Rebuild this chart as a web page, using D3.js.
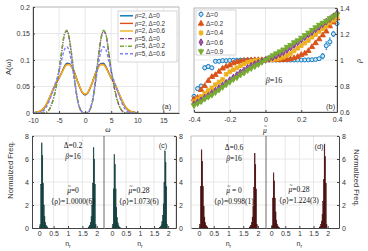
<!DOCTYPE html>
<html>
<head>
<meta charset="utf-8">
<script src="https://cdn.jsdelivr.net/npm/d3@7"></script>
<style>
body { margin: 0; background: #fff; }
text { font-family: "Liberation Sans", Arial, sans-serif; fill: #333; }
text.serif, tspan.serif { font-family: "Liberation Serif", "Times New Roman", serif; fill: #111; }
</style>
</head>
<body>
<div id="fig"></div>
<script>
// ---------- panel (a) data: A(w) ----------
var omega = [-10,-9.5,-9,-8.5,-8,-7.5,-7,-6.5,-6,-5.5,-5,-4.5,-4,-3.5,-3,-2.5,-2,-1.5,-1,-0.5,0,
             0.5,1,1.5,2,2.5,3,3.5,4,4.5,5,5.5,6,6.5,7,7.5,8,8.5,9,9.5,10];
var aB2D0  = [0,0.001,0.002,0.004,0.008,0.015,0.025,0.036,0.048,0.058,0.066,0.076,0.087,0.094,0.093,0.086,0.075,0.061,0.048,0.038,0.034,
              0.038,0.048,0.061,0.075,0.086,0.093,0.094,0.087,0.076,0.066,0.058,0.048,0.036,0.025,0.015,0.008,0.004,0.002,0.001,0];
var aB2D02 = [0,0.001,0.002,0.004,0.008,0.015,0.025,0.036,0.048,0.058,0.066,0.076,0.086,0.092,0.092,0.086,0.075,0.061,0.048,0.038,0.035,
              0.038,0.048,0.061,0.075,0.086,0.092,0.092,0.086,0.076,0.066,0.058,0.048,0.036,0.025,0.015,0.008,0.004,0.002,0.001,0];
var aB2D06 = [0,0.001,0.002,0.005,0.009,0.016,0.026,0.037,0.049,0.059,0.066,0.075,0.085,0.091,0.091,0.085,0.074,0.061,0.049,0.039,0.036,
              0.039,0.049,0.061,0.074,0.085,0.091,0.091,0.085,0.075,0.066,0.059,0.049,0.037,0.026,0.016,0.009,0.005,0.002,0.001,0];
var aB5D0  = [0,0,0,0,0,0.001,0.005,0.014,0.030,0.052,0.080,0.115,0.147,0.155,0.138,0.103,0.062,0.027,0.008,0.001,0,
              0.001,0.008,0.027,0.062,0.103,0.138,0.155,0.147,0.115,0.080,0.052,0.030,0.014,0.005,0.001,0,0,0,0,0];
var aB5D02 = [0,0,0,0,0,0.001,0.005,0.014,0.031,0.053,0.081,0.116,0.148,0.156,0.138,0.102,0.061,0.026,0.008,0.001,0,
              0.001,0.008,0.026,0.061,0.102,0.138,0.156,0.148,0.116,0.081,0.053,0.031,0.014,0.005,0.001,0,0,0,0,0];
var aB5D06 = [0,0,0,0.001,0.004,0.010,0.020,0.033,0.047,0.062,0.079,0.100,0.119,0.125,0.115,0.090,0.058,0.028,0.009,0.002,0,
              0.002,0.009,0.028,0.058,0.090,0.115,0.125,0.119,0.100,0.079,0.062,0.047,0.033,0.020,0.010,0.004,0.001,0,0,0];
var aLabels = ["2, \u0394=0", "2, \u0394=0.2", "2, \u0394=0.6", "5, \u0394=0", "5, \u0394=0.2", "5, \u0394=0.6"];
var aXTicks = [-10, -5, 0, 5, 10, 15];
var aYTicks = [0, 0.05, 0.1, 0.15, 0.2];

// ---------- panel (b) data: rho(mu) ----------
var mu = [-0.40,-0.38,-0.36,-0.34,-0.32,-0.30,-0.28,-0.26,-0.24,-0.22,-0.20,-0.18,-0.16,-0.14,-0.12,-0.10,-0.08,-0.06,-0.04,-0.02,0,
          0.02,0.04,0.06,0.08,0.10,0.12,0.14,0.16,0.18,0.20,0.22,0.24,0.26,0.28,0.30,0.32,0.34,0.36,0.38,0.40];
var rhoD0  = [0.72,0.78,0.80,0.94,0.95,0.94,0.99,0.99,0.995,0.995,0.997,0.998,0.998,0.999,0.999,1.0,1.0,1.0,1.0,1.0,1.0,
              1.0,1.0,1.0,1.0,1.0,1.0,1.0,1.0,1.0,1.0,1.0,1.001,1.002,1.004,1.01,1.03,1.11,1.14,1.20,1.28];
var errD0  = [0.010,0.012,0.012,0.015,0.015,0.012,0.006,0.005,0.004,0.004,0.004,0.003,0.003,0.003,0.003,0.003,0.003,0.003,0.003,0.003,0.003,
              0.003,0.003,0.003,0.003,0.003,0.003,0.003,0.003,0.003,0.003,0.003,0.004,0.004,0.005,0.008,0.02,0.03,0.03,0.02,0.012];
var rhoD02 = [0.70,0.71,0.77,0.80,0.84,0.87,0.885,0.91,0.935,0.95,0.96,0.975,0.985,0.99,0.995,0.998,0.999,1.0,1.0,1.0,1.0,
              1.0,1.0,1.0,1.0,1.001,1.003,1.007,1.015,1.025,1.04,1.05,1.07,1.10,1.13,1.16,1.19,1.22,1.26,1.29,1.32];
var rhoD04 = [0.68,0.70,0.72,0.745,0.765,0.785,0.81,0.83,0.85,0.89,0.91,0.925,0.94,0.955,0.97,0.983,0.99,0.995,0.998,0.999,1.0,
              1.001,1.003,1.007,1.013,1.022,1.035,1.05,1.07,1.09,1.11,1.13,1.15,1.175,1.195,1.22,1.24,1.26,1.285,1.305,1.33];
var rhoD06 = [0.66,0.675,0.69,0.71,0.725,0.745,0.765,0.785,0.805,0.825,0.845,0.865,0.885,0.905,0.92,0.94,0.955,0.968,0.98,0.99,1.0,
              1.01,1.02,1.032,1.045,1.06,1.078,1.095,1.115,1.135,1.155,1.175,1.195,1.215,1.235,1.255,1.275,1.295,1.315,1.335,1.36];
var rhoD09 = [0.65,0.665,0.68,0.70,0.715,0.73,0.75,0.77,0.79,0.81,0.83,0.85,0.865,0.885,0.90,0.92,0.935,0.95,0.965,0.983,1.0,
              1.017,1.035,1.05,1.065,1.08,1.10,1.115,1.135,1.15,1.17,1.19,1.21,1.23,1.25,1.27,1.285,1.30,1.32,1.335,1.35];
var bLabels = ["\u0394=0", "\u0394=0.2", "\u0394=0.4", "\u0394=0.6", "\u0394=0.9"];
var bXTicks = [-0.4, -0.2, 0, 0.2, 0.4];
var bYTicks = [0.6, 0.8, 1, 1.2, 1.4];

// ---------- panels (c),(d) data: histograms of n_r ----------
var nrBins = [0.025,0.05,0.075,0.1,0.125,0.15,0.175,0.2,0.225,0.25,0.275,
              1.7,1.725,1.75,1.775,1.8,1.825,1.85,1.875,1.9,1.925,1.95];
var histC1 = [0.3,3.8,7.4,6.3,3.9,2.0,1.0,0.5,0.25,0.12,0.05, 0.05,0.12,0.25,0.5,1.0,2.0,3.9,7.0,6.0,3.8,0.3];
var histC2 = [0.3,3.4,6.4,5.5,3.4,1.8,0.9,0.45,0.22,0.1,0.04, 0.05,0.13,0.27,0.55,1.1,2.1,4.0,6.7,5.7,3.6,0.3];
var histD1 = [0.3,3.6,6.8,5.8,3.6,1.9,0.95,0.47,0.23,0.11,0.05, 0.05,0.11,0.23,0.47,0.95,1.9,3.5,6.5,5.5,3.4,0.3];
var histD2 = [0.2,2.6,4.8,4.1,2.6,1.4,0.7,0.35,0.17,0.08,0.03, 0.06,0.14,0.3,0.6,1.2,2.3,4.2,7.3,6.2,3.9,0.3];
var nrTicks = [0, 0.5, 1, 1.5, 2];
var freqTicks = [0, 2, 4, 6, 8];
var binW = 0.025;

var svg = d3.select("#fig").append("svg").attr("width", 368).attr("height", 251);
var fmt = function(d) { return String(d); };
var gridCol = "#e8e8e8", axisCol = "#444", boxCol = "#aaa";

function axisStyle(g) {
    g.select(".domain").attr("stroke", axisCol);
    g.selectAll(".tick line").attr("stroke", axisCol);
    g.selectAll(".tick text").style("font-size", "7px").attr("fill", "#333");
}

// puts a small tilde over character idx of a text node (for mu-tilde)
function addTilde(parent, node, idx) {
    var ext = node.getExtentOfChar(idx);
    parent.append("text").attr("class", "serif")
        .attr("x", ext.x + ext.width / 2 + 0.6).attr("y", ext.y + 2.4)
        .attr("text-anchor", "middle").style("font-size", "5.5px").text("~");
}

// ================= (a) =================
var xa = d3.scaleLinear().domain([-10, 18]).range([33, 179]);
var ya = d3.scaleLinear().domain([0, 0.2]).range([113, 7]);
var ga = svg.append("g");

ga.selectAll(".gx").data(aXTicks).enter().append("line")
    .attr("x1", d => xa(d)).attr("x2", d => xa(d)).attr("y1", 7).attr("y2", 113).attr("stroke", gridCol);
ga.selectAll(".gy").data(aYTicks).enter().append("line")
    .attr("x1", 33).attr("x2", 179).attr("y1", d => ya(d)).attr("y2", d => ya(d)).attr("stroke", gridCol);
ga.append("rect").attr("x", 33).attr("y", 7).attr("width", 146).attr("height", 106)
    .attr("fill", "none").attr("stroke", boxCol).attr("stroke-width", 0.7);

var aSeries = [
    {v: aB2D0,  c: "#0072BD", dash: null},
    {v: aB2D02, c: "#D95319", dash: null},
    {v: aB2D06, c: "#EDB120", dash: null},
    {v: aB5D0,  c: "#7E2F8E", dash: "4,1.5,1,1.5"},
    {v: aB5D02, c: "#77AC30", dash: "4,1.5,1,1.5"},
    {v: aB5D06, c: "#8080FF", dash: "3,2"}
];
var lineA = d3.line().x((d, i) => xa(omega[i])).y(d => ya(d)).curve(d3.curveMonotoneX);
aSeries.forEach(function(s) {
    ga.append("path").attr("d", lineA(s.v)).attr("fill", "none")
      .attr("stroke", s.c).attr("stroke-width", 1.4)
      .attr("stroke-dasharray", s.dash);
});

ga.append("g").attr("transform", "translate(0,113)")
    .call(d3.axisBottom(xa).tickValues(aXTicks).tickSizeInner(-2).tickSizeOuter(0).tickPadding(5).tickFormat(fmt))
    .call(axisStyle);
ga.append("g").attr("transform", "translate(33,0)")
    .call(d3.axisLeft(ya).tickValues(aYTicks).tickSizeInner(-2).tickSizeOuter(0).tickPadding(3).tickFormat(fmt))
    .call(axisStyle);

// legend (a)
var la = ga.append("g");
la.append("rect").attr("x", 118).attr("y", 11).attr("width", 59).attr("height", 51)
    .attr("fill", "#fff").attr("stroke", "#bbb").attr("stroke-width", 0.6);
aSeries.forEach(function(s, i) {
    var yy = 15.8 + i * 7.6;
    la.append("line").attr("x1", 120).attr("x2", 133).attr("y1", yy).attr("y2", yy)
      .attr("stroke", s.c).attr("stroke-width", 1.4).attr("stroke-dasharray", s.dash);
    var t = la.append("text").attr("x", 135).attr("y", yy + 2.2).style("font-size", "6.3px");
    t.append("tspan").attr("class", "serif").style("font-style", "italic").text("\u03b2");
    t.append("tspan").text("=" + aLabels[i]);
});
ga.append("text").attr("x", 162).attr("y", 109).style("font-size", "7.5px").text("(a)");
ga.append("text").attr("transform", "translate(11,67) rotate(-90)").attr("text-anchor", "middle")
    .style("font-size", "7.5px").text("A(\u03c9)");
ga.append("text").attr("class", "serif").attr("x", 108).attr("y", 132).attr("text-anchor", "middle")
    .style("font-size", "7.5px").style("font-style", "italic").text("\u03c9");

// ================= (b) =================
var xb = d3.scaleLinear().domain([-0.4, 0.4]).range([194, 337]);
var yb = d3.scaleLinear().domain([0.6, 1.4]).range([112, 8]);
var gb = svg.append("g");

gb.selectAll(".gx").data(bXTicks).enter().append("line")
    .attr("x1", d => xb(d)).attr("x2", d => xb(d)).attr("y1", 8).attr("y2", 112).attr("stroke", gridCol);
gb.selectAll(".gy").data(bYTicks).enter().append("line")
    .attr("x1", 194).attr("x2", 337).attr("y1", d => yb(d)).attr("y2", d => yb(d)).attr("stroke", gridCol);
gb.append("rect").attr("x", 194).attr("y", 8).attr("width", 143).attr("height", 104)
    .attr("fill", "none").attr("stroke", boxCol).attr("stroke-width", 0.7);

var triDown = { draw: function(ctx, size) {
    var h = Math.sqrt(size * 4 / Math.sqrt(3)) / 2;
    ctx.moveTo(-h, -h * 0.6); ctx.lineTo(h, -h * 0.6); ctx.lineTo(0, h * 1.1); ctx.closePath();
}};
var bSeries = [
    {v: rhoD0,  e: errD0, c: "#0072BD", sym: d3.symbolCircle,   fill: "#cfe3f3"},
    {v: rhoD02, e: null,  c: "#D95319", sym: d3.symbolTriangle, fill: "#D95319"},
    {v: rhoD04, e: null,  c: "#EDB120", sym: d3.symbolSquare,   fill: "#EDB120"},
    {v: rhoD06, e: null,  c: "#7E2F8E", sym: d3.symbolDiamond,  fill: "#9b59ab"},
    {v: rhoD09, e: null,  c: "#77AC30", sym: triDown,           fill: "#77AC30"}
];
bSeries.forEach(function(s) {
    var g = gb.append("g");
    s.v.forEach(function(r, i) {
        var er = s.e ? s.e[i] : 0.008;
        var x = xb(mu[i]);
        g.append("line").attr("x1", x).attr("x2", x).attr("y1", yb(r - er)).attr("y2", yb(r + er))
         .attr("stroke", s.c).attr("stroke-width", 0.7);
        g.append("line").attr("x1", x - 1).attr("x2", x + 1).attr("y1", yb(r + er)).attr("y2", yb(r + er))
         .attr("stroke", s.c).attr("stroke-width", 0.6);
        g.append("line").attr("x1", x - 1).attr("x2", x + 1).attr("y1", yb(r - er)).attr("y2", yb(r - er))
         .attr("stroke", s.c).attr("stroke-width", 0.6);
        g.append("path").attr("d", d3.symbol().type(s.sym).size(13)())
         .attr("transform", "translate(" + x + "," + yb(r) + ")")
         .attr("fill", s.fill).attr("stroke", s.c).attr("stroke-width", 0.9);
    });
});

gb.append("g").attr("transform", "translate(0,112)")
    .call(d3.axisBottom(xb).tickValues(bXTicks).tickSizeInner(-2).tickSizeOuter(0).tickPadding(5).tickFormat(fmt))
    .call(axisStyle);
gb.append("g").attr("transform", "translate(337,0)")
    .call(d3.axisRight(yb).tickValues(bYTicks).tickSizeInner(-2).tickSizeOuter(0).tickPadding(3).tickFormat(fmt))
    .call(axisStyle);

// legend (b)
var lb = gb.append("g");
lb.append("rect").attr("x", 196).attr("y", 10).attr("width", 40).attr("height", 45)
    .attr("fill", "#fff").attr("stroke", "#bbb").attr("stroke-width", 0.6);
bSeries.forEach(function(s, i) {
    var yy = 14.3 + i * 9.3;
    lb.append("line").attr("x1", 201).attr("x2", 201).attr("y1", yy - 3).attr("y2", yy + 3)
      .attr("stroke", s.c).attr("stroke-width", 0.7);
    lb.append("path").attr("d", d3.symbol().type(s.sym).size(13)())
      .attr("transform", "translate(201," + yy + ")")
      .attr("fill", s.fill).attr("stroke", s.c).attr("stroke-width", 0.9);
    lb.append("text").attr("x", 206).attr("y", yy + 2.3).style("font-size", "6.5px").text(bLabels[i]);
});
var tb = gb.append("text").attr("x", 274).attr("y", 83).attr("text-anchor", "middle").attr("class", "serif")
    .style("font-size", "8px");
tb.append("tspan").style("font-style", "italic").text("\u03b2");
tb.append("tspan").text("=16");
gb.append("text").attr("x", 326).attr("y", 109).style("font-size", "7.5px").text("(b)");
var muLab = gb.append("text").attr("class", "serif").attr("x", 265).attr("y", 133).attr("text-anchor", "middle")
    .style("font-size", "7.5px").style("font-style", "italic").text("\u03bc");
addTilde(gb, muLab.node(), 0);
gb.append("text").attr("class", "serif").attr("transform", "translate(361,61) rotate(-90)")
    .attr("text-anchor", "middle").style("font-size", "7.5px").style("font-style", "italic").text("\u03c1");

// ================= (c) and (d) =================
var yh = d3.scaleLinear().domain([0, 8]).range([228, 136]);

svg.append("defs").append("clipPath").attr("id", "clipC")
    .append("rect").attr("x", 0).attr("y", 0).attr("width", 183.5).attr("height", 251);

function histPanel(g, x, vals, fill) {
    var r = x.range();
    g.selectAll(".gx").data(nrTicks.slice(1, 4)).enter().append("line")
        .attr("x1", d => x(d)).attr("x2", d => x(d)).attr("y1", 136).attr("y2", 228).attr("stroke", gridCol);
    g.selectAll(".gy").data(freqTicks.slice(1, 4)).enter().append("line")
        .attr("x1", r[0]).attr("x2", r[1]).attr("y1", d => yh(d)).attr("y2", d => yh(d)).attr("stroke", gridCol);
    g.selectAll(".bar").data(vals).enter().append("rect")
        .attr("x", (d, i) => x(nrBins[i]))
        .attr("width", (d, i) => x(nrBins[i] + binW) - x(nrBins[i]))
        .attr("y", d => yh(d)).attr("height", d => 228 - yh(d))
        .attr("fill", fill).attr("stroke", fill).attr("stroke-width", 0.45);
    g.append("g").attr("transform", "translate(0,228)")
        .call(d3.axisBottom(x).tickValues(nrTicks).tickSizeInner(-2).tickSizeOuter(0).tickPadding(3).tickFormat(fmt))
        .call(axisStyle);
    var t = g.append("text").attr("x", x(1)).attr("y", 246).attr("text-anchor", "middle").style("font-size", "7px");
    t.append("tspan").text("n");
    t.append("tspan").attr("dy", 2).style("font-size", "5px").text("r");
}

// lines of parts [string, italic]; a part "MU" draws mu with a tilde
function annot(g, x, y, lines) {
    lines.forEach(function(l, i) {
        var t = g.append("text").attr("class", "serif").attr("x", x).attr("y", y + i * 10.5)
            .attr("text-anchor", "middle").style("font-size", "7.5px");
        var hasMu = false;
        l.forEach(function(p) {
            if (p[0] === "MU") { hasMu = true; t.append("tspan").style("font-style", "italic").text("\u03bc"); return; }
            var sp = t.append("tspan").text(p[0]);
            if (p[1]) sp.style("font-style", "italic");
        });
        if (hasMu) addTilde(g, t.node(), 0);
    });
}

// panel (c)
var gc = svg.append("g").attr("clip-path", "url(#clipC)");
var xc1 = d3.scaleLinear().domain([-0.25, 2.25]).range([32, 104]);
var xc2 = d3.scaleLinear().domain([-0.28, 2.28]).range([104, 176]);
histPanel(gc.append("g"), xc1, histC1, "#0d3b38");
histPanel(gc.append("g"), xc2, histC2, "#0d3b38");
gc.append("line").attr("x1", 32).attr("x2", 176).attr("y1", 136).attr("y2", 136).attr("stroke", boxCol).attr("stroke-width", 0.7);
gc.append("line").attr("x1", 176).attr("x2", 176).attr("y1", 136).attr("y2", 228).attr("stroke", boxCol).attr("stroke-width", 0.7);
gc.append("line").attr("x1", 104).attr("x2", 104).attr("y1", 136).attr("y2", 228).attr("stroke", axisCol).attr("stroke-width", 0.8);
gc.append("g").attr("transform", "translate(32,0)")
    .call(d3.axisLeft(yh).tickValues(freqTicks).tickSizeInner(-2).tickSizeOuter(0).tickPadding(3).tickFormat(fmt))
    .call(axisStyle);
gc.append("g").attr("transform", "translate(176,0)")
    .call(d3.axisRight(yh).tickValues(freqTicks).tickSizeInner(-2).tickSizeOuter(0).tickPadding(3).tickFormat(fmt))
    .call(axisStyle);
gc.append("text").attr("transform", "translate(13,170) rotate(-90)").attr("text-anchor", "middle")
    .style("font-size", "7.5px").text("Normalized Freq.");
annot(gc, 73, 148, [[["\u0394=0.2"]], [["\u03b2", true], ["=16"]]]);
annot(gc, 73, 193, [[["MU"], ["=0"]], [["\u27e8\u03c1\u27e9=1.0000(6)"]]]);
annot(gc, 139, 193, [[["MU"], ["=0.28"]], [["\u27e8\u03c1\u27e9=1.073(6)"]]]);
gc.append("text").attr("x", 163).attr("y", 148).style("font-size", "7.5px").attr("text-anchor", "middle").text("(c)");

// panel (d)
var gd = svg.append("g");
var xd1 = d3.scaleLinear().domain([-0.27, 2.27]).range([191, 266]);
var xd2 = d3.scaleLinear().domain([-0.18, 2.4]).range([266, 339]);
histPanel(gd.append("g"), xd1, histD1, "#450a0a");
histPanel(gd.append("g"), xd2, histD2, "#450a0a");
gd.append("line").attr("x1", 191).attr("x2", 339).attr("y1", 136).attr("y2", 136).attr("stroke", boxCol).attr("stroke-width", 0.7);
gd.append("line").attr("x1", 191).attr("x2", 191).attr("y1", 136).attr("y2", 228).attr("stroke", boxCol).attr("stroke-width", 0.7);
gd.append("line").attr("x1", 266).attr("x2", 266).attr("y1", 136).attr("y2", 228).attr("stroke", axisCol).attr("stroke-width", 0.8);
gd.append("g").attr("transform", "translate(339,0)")
    .call(d3.axisRight(yh).tickValues(freqTicks).tickSizeInner(-2).tickSizeOuter(0).tickPadding(3).tickFormat(fmt))
    .call(axisStyle);
gd.append("text").attr("transform", "translate(354,178) rotate(90)").attr("text-anchor", "middle")
    .style("font-size", "7.5px").text("Normalized Freq.");
annot(gd, 234, 150, [[["\u0394=0.6"]], [["\u03b2", true], ["=16"]]]);
annot(gd, 234, 193, [[["MU"], [" = 0"]], [["\u27e8\u03c1\u27e9=0.998(1)"]]]);
annot(gd, 299, 192, [[["MU"], ["=0.28"]], [["\u27e8\u03c1\u27e9=1.224(3)"]]]);
gd.append("text").attr("x", 319).attr("y", 149).style("font-size", "7.5px").attr("text-anchor", "middle").text("(d)");
</script>
</body>
</html>
